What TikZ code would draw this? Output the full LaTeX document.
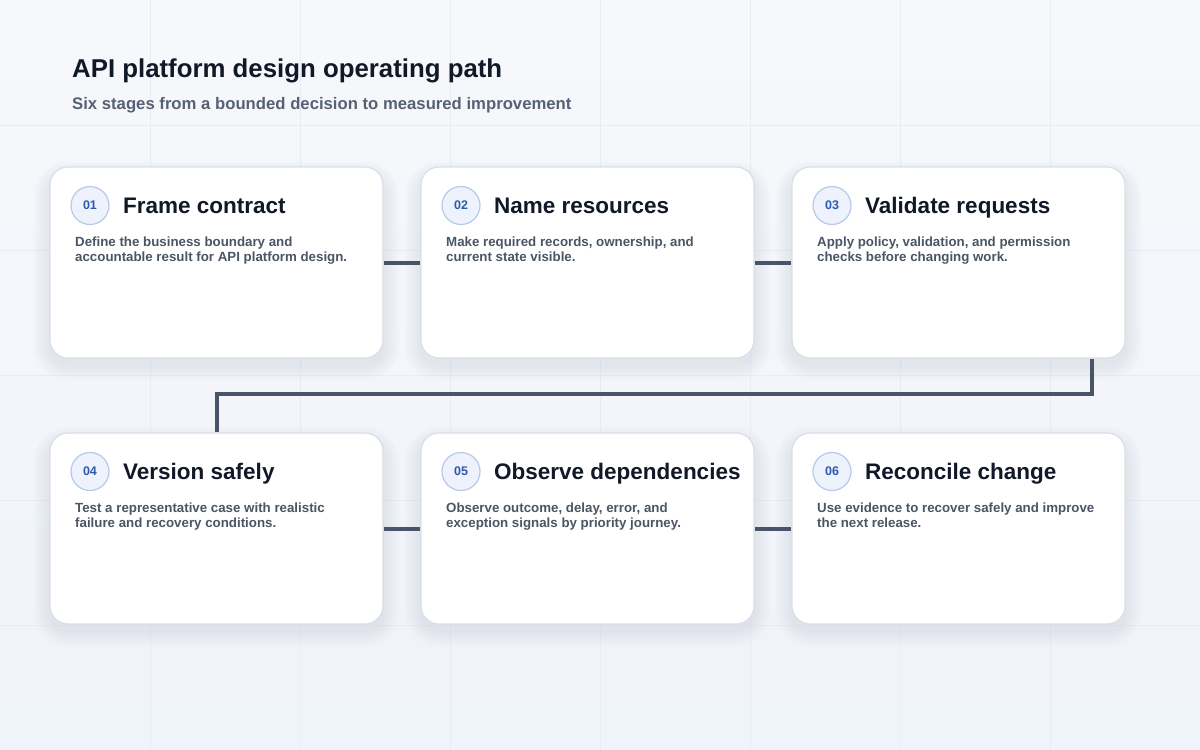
\documentclass[tikz,border=0pt]{standalone}
\usepackage{fontspec}
\setmainfont{Liberation Sans}
\usetikzlibrary{calc}
\definecolor{bgtop}{HTML}{F7F8FB}
\definecolor{bgbot}{HTML}{EFF3FA}
\definecolor{gridc}{HTML}{E9EDF3}
\definecolor{titlec}{HTML}{111827}
\definecolor{subc}{HTML}{566173}
\definecolor{descc}{HTML}{4B5563}
\definecolor{cardline}{HTML}{D8DFEA}
\definecolor{shadowc}{HTML}{8A9AB8}
\definecolor{circfill}{HTML}{EDF2FC}
\definecolor{circline}{HTML}{B8C9E8}
\definecolor{numc}{HTML}{2D5AA9}
\definecolor{connc}{HTML}{4A5468}
\tikzset{
  card/.style={draw=cardline, line width=1.2pt, fill=white, rounded corners=18pt,
    minimum width=333pt, minimum height=191pt, inner sep=0pt},
  numcirc/.style={circle, draw=circline, line width=1.2pt, fill=circfill,
    minimum size=38pt, inner sep=0pt, text=numc, font=\fontsize{12.5}{14}\selectfont\bfseries},
  titletext/.style={inner sep=0pt, text=titlec, font=\fontsize{22.5}{26}\selectfont\bfseries},
  desctext/.style={inner sep=0pt, text=descc, align=left,
    font=\fontsize{13.3}{15}\selectfont\bfseries},
  conn/.style={draw=connc, line width=4pt},
}
\newcommand\stagecard[7]{%
  \foreach \k in {2,4,...,16}{
    \fill[shadowc, opacity=0.018, rounded corners={18pt+\k pt}]
      ({#2-\k},{#3+10-\k}) rectangle ({#2+333+\k},{#3+191+6+\k});
  }
  \node[card] (#1) at ({#2+166.5},{#3+95.5}) {};
  \node[numcirc] (#1n) at ({#2+40},{#3+38.5}) {#4};
  \node[titletext, anchor=base west] (#1t) at ({#2+73},{#3+46}) {#5};
  \node[desctext, anchor=north west] (#1d) at ({#2+25},{#3+70}) {#6\\#7};
}
\begin{document}
\begin{tikzpicture}[x=1pt,y=-1pt]
\useasboundingbox (0,0) rectangle (1200,750);
\shade[top color=bgtop, bottom color=bgbot] (0,0) rectangle (1200,750);
\foreach \gx in {150,300,...,1050} \draw[gridc, line width=0.7pt] (\gx,0) -- (\gx,750);
\foreach \gy in {125,250,...,625} \draw[gridc, line width=0.7pt] (0,\gy) -- (1200,\gy);
\node[anchor=base west, inner sep=0pt, text=titlec, font=\fontsize{25.8}{30}\selectfont\bfseries] (title) at (72,77) {API platform design operating path};
\node[anchor=base west, inner sep=0pt, text=subc, font=\fontsize{16.7}{19}\selectfont\bfseries] (subtitle) at (72,109.5) {Six stages from a bounded decision to measured improvement};
\stagecard{c1}{50}{167}{01}{Frame contract}{Define the business boundary and}{accountable result for API platform design.}
\stagecard{c2}{421}{167}{02}{Name resources}{Make required records, ownership, and}{current state visible.}
\stagecard{c3}{792}{167}{03}{Validate requests}{Apply policy, validation, and permission}{checks before changing work.}
\stagecard{c4}{50}{433}{04}{Version safely}{Test a representative case with realistic}{failure and recovery conditions.}
\stagecard{c5}{421}{433}{05}{Observe dependencies}{Observe outcome, delay, error, and}{exception signals by priority journey.}
\stagecard{c6}{792}{433}{06}{Reconcile change}{Use evidence to recover safely and improve}{the next release.}
\draw[conn] (c1.east) -- (c2.west);
\draw[conn] (c2.east) -- (c3.west);
\draw[conn] ($(c3.south west)!0.9!(c3.south east)$) |- ($(c4.north)+(0,-38)$) -- (c4.north);
\draw[conn] (c4.east) -- (c5.west);
\draw[conn] (c5.east) -- (c6.west);
\end{tikzpicture}
\end{document}
